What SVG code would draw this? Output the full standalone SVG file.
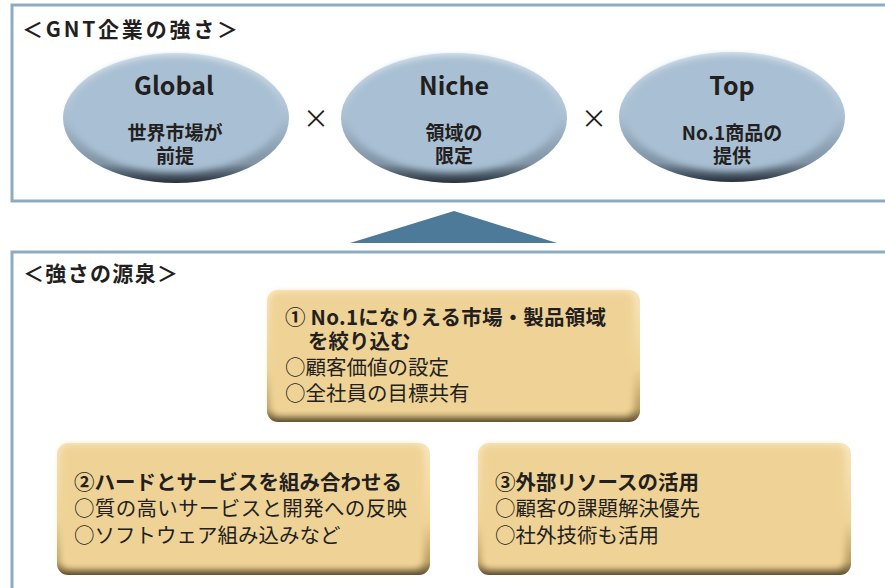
<svg xmlns="http://www.w3.org/2000/svg" width="885" height="588" viewBox="0 0 885 588">
<defs>
<linearGradient id="ellG" x1="0" y1="0" x2="0" y2="1">
<stop offset="0" stop-color="#d6e2ec"/>
<stop offset="0.5" stop-color="#a9bfd2"/>
<stop offset="0.85" stop-color="#7f93a4"/>
<stop offset="1" stop-color="#26303a"/>
</linearGradient>
<linearGradient id="boxG" x1="0" y1="0" x2="0" y2="1">
<stop offset="0" stop-color="#f8e6bf"/>
<stop offset="0.6" stop-color="#efd395"/>
<stop offset="0.9" stop-color="#b79c63"/>
<stop offset="1" stop-color="#5e4e30"/>
</linearGradient>
<filter id="soft" x="-10%" y="-10%" width="120%" height="120%">
<feGaussianBlur stdDeviation="3"/>
</filter>
</defs>
<style>
.panel{fill:#fff;stroke:#8fabc2;stroke-width:3}
.t{font-family:"Noto Sans CJK JP","Noto Sans",sans-serif;fill:#231f20}
.b{font-weight:bold}
.n{font-weight:normal}
.h{font-size:21px;font-weight:bold}
.big{font-size:25px;font-weight:bold;text-anchor:middle}
.sub{font-size:19px;font-weight:bold;text-anchor:middle}
.body{font-size:20.5px}
.x{font-size:26px;text-anchor:middle}
</style>
<rect width="885" height="588" fill="#fff"/>
<rect class="panel" x="12" y="5" width="880" height="196"/>
<text class="t h" x="22" y="37" textLength="216">＜GNT企業の強さ＞</text>

<g id="global">
<ellipse cx="176" cy="118" rx="113" ry="65" fill="url(#ellG)"/>
<ellipse cx="175" cy="114" rx="106" ry="58" fill="#a9bfd3" filter="url(#soft)"/>
<text class="t big" x="174" y="95">Global</text>
<text class="t sub"><tspan x="175" y="140">世界市場が</tspan><tspan x="175" y="163">前提</tspan></text>
</g>
<text class="t x" x="316" y="128">×</text>
<g id="niche">
<ellipse cx="454" cy="118" rx="113" ry="65" fill="url(#ellG)"/>
<ellipse cx="453" cy="114" rx="106" ry="58" fill="#a9bfd3" filter="url(#soft)"/>
<text class="t big" x="454" y="95">Niche</text>
<text class="t sub"><tspan x="454" y="140">領域の</tspan><tspan x="454" y="163">限定</tspan></text>
</g>
<text class="t x" x="594" y="128">×</text>
<g id="top">
<ellipse cx="732" cy="117" rx="113" ry="65" fill="url(#ellG)"/>
<ellipse cx="731" cy="113" rx="106" ry="58" fill="#a9bfd3" filter="url(#soft)"/>
<text class="t big" x="732" y="95">Top</text>
<text class="t sub"><tspan x="732" y="140">No.1商品の</tspan><tspan x="732" y="163">提供</tspan></text>
</g>

<g id="connectors">
<polygon points="350,243 557,243 454,211" fill="#4e7a99"/>
</g>

<rect class="panel" x="12" y="252" width="880" height="345"/>
<text class="t h" x="23" y="281" textLength="155">＜強さの源泉＞</text>

<g id="box1">
<rect x="267" y="290" width="373" height="132" rx="11" fill="url(#boxG)"/>
<rect x="270" y="292" width="364" height="124" rx="9" fill="#efd396" filter="url(#soft)"/>
<text class="t body b"><tspan x="285" y="325" textLength="321">① No.1になりえる市場・製品領域</tspan><tspan x="308" y="349">を絞り込む</tspan><tspan class="n" x="285" y="375">○顧客価値の設定</tspan><tspan class="n" x="285" y="401">○全社員の目標共有</tspan></text>
</g>
<g id="box2">
<rect x="57" y="443" width="373" height="132" rx="11" fill="url(#boxG)"/>
<rect x="60" y="445" width="364" height="124" rx="9" fill="#efd396" filter="url(#soft)"/>
<text class="t body b"><tspan x="74" y="490" textLength="328">②ハードとサービスを組み合わせる</tspan><tspan class="n" x="74" y="516" textLength="333">○質の高いサービスと開発への反映</tspan><tspan class="n" x="74" y="543">○ソフトウェア組み込みなど</tspan></text>
</g>
<g id="box3">
<rect x="478" y="443" width="373" height="132" rx="11" fill="url(#boxG)"/>
<rect x="481" y="445" width="364" height="124" rx="9" fill="#efd396" filter="url(#soft)"/>
<text class="t body b"><tspan x="495" y="490">③外部リソースの活用</tspan><tspan class="n" x="495" y="516">○顧客の課題解決優先</tspan><tspan class="n" x="495" y="543">○社外技術も活用</tspan></text>
</g>
</svg>
